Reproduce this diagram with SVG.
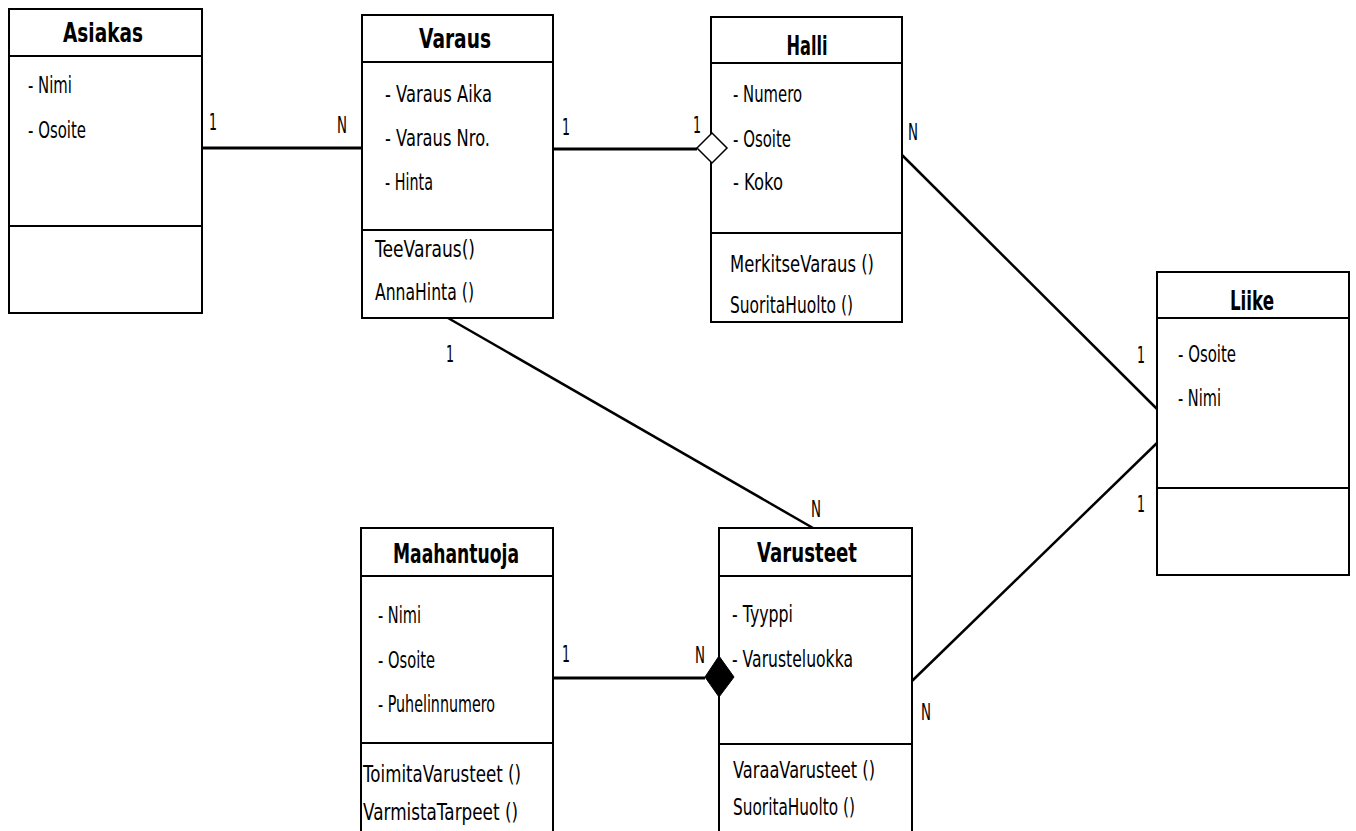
<svg xmlns="http://www.w3.org/2000/svg" width="1356" height="831" viewBox="0 0 1356 831">
<style>
.box{fill:#fff;stroke:#000;stroke-width:2}
.div{stroke:#000;stroke-width:2}
.t{font-family:"DejaVu Sans","Liberation Sans",sans-serif;font-size:23px;fill:#000}
.h{font-family:"DejaVu Sans","Liberation Sans",sans-serif;font-size:26px;font-weight:bold;fill:#000;text-anchor:middle}
.l{font-family:"DejaVu Sans","Liberation Sans",sans-serif;font-size:23px;fill:#000}
.c{stroke:#000;stroke-width:3;fill:none}
.d{stroke:#000;stroke-width:2.5;fill:none}
</style>
<rect width="1356" height="831" fill="#fff"/>
<g id="asiakas">
<rect class="box" x="9" y="9" width="193" height="304"/>
<line class="div" x1="9" y1="56" x2="202" y2="56"/>
<line class="div" x1="9" y1="226" x2="202" y2="226"/>
<text class="h" x="103" y="42" textLength="80" lengthAdjust="spacingAndGlyphs">Asiakas</text>
<text class="t" x="28" y="93" textLength="44" lengthAdjust="spacingAndGlyphs">- Nimi</text>
<text class="t" x="28" y="138" textLength="58" lengthAdjust="spacingAndGlyphs">- Osoite</text>
</g>
<g id="varaus">
<rect class="box" x="362" y="15" width="191" height="303"/>
<line class="div" x1="362" y1="62" x2="553" y2="62"/>
<line class="div" x1="362" y1="230" x2="553" y2="230"/>
<text class="h" x="455" y="48" textLength="72" lengthAdjust="spacingAndGlyphs">Varaus</text>
<text class="t" x="385" y="102" textLength="107" lengthAdjust="spacingAndGlyphs">- Varaus Aika</text>
<text class="t" x="385" y="146" textLength="105" lengthAdjust="spacingAndGlyphs">- Varaus Nro.</text>
<text class="t" x="385" y="190" textLength="48" lengthAdjust="spacingAndGlyphs">- Hinta</text>
<text class="t" x="375" y="257" textLength="100" lengthAdjust="spacingAndGlyphs">TeeVaraus()</text>
<text class="t" x="375" y="300" textLength="99" lengthAdjust="spacingAndGlyphs">AnnaHinta ()</text>
</g>
<g id="halli">
<rect class="box" x="711" y="17" width="191" height="305"/>
<line class="div" x1="711" y1="63" x2="902" y2="63"/>
<line class="div" x1="711" y1="233" x2="902" y2="233"/>
<text class="h" x="807" y="55" textLength="41" lengthAdjust="spacingAndGlyphs">Halli</text>
<text class="t" x="733" y="102" textLength="69" lengthAdjust="spacingAndGlyphs">- Numero</text>
<text class="t" x="733" y="147" textLength="58" lengthAdjust="spacingAndGlyphs">- Osoite</text>
<text class="t" x="733" y="190" textLength="50" lengthAdjust="spacingAndGlyphs">- Koko</text>
<text class="t" x="730" y="272" textLength="144" lengthAdjust="spacingAndGlyphs">MerkitseVaraus ()</text>
<text class="t" x="730" y="313" textLength="123" lengthAdjust="spacingAndGlyphs">SuoritaHuolto ()</text>
</g>
<g id="liike">
<rect class="box" x="1157" y="272" width="192" height="303"/>
<line class="div" x1="1157" y1="318" x2="1349" y2="318"/>
<line class="div" x1="1157" y1="488" x2="1349" y2="488"/>
<text class="h" x="1252" y="310" textLength="44" lengthAdjust="spacingAndGlyphs">Liike</text>
<text class="t" x="1178" y="362" textLength="58" lengthAdjust="spacingAndGlyphs">- Osoite</text>
<text class="t" x="1178" y="406" textLength="43" lengthAdjust="spacingAndGlyphs">- Nimi</text>
</g>
<g id="maahantuoja">
<rect class="box" x="361" y="528" width="192" height="320"/>
<line class="div" x1="361" y1="576" x2="553" y2="576"/>
<line class="div" x1="361" y1="743" x2="553" y2="743"/>
<text class="h" x="456" y="563" textLength="126" lengthAdjust="spacingAndGlyphs">Maahantuoja</text>
<text class="t" x="378" y="623" textLength="43" lengthAdjust="spacingAndGlyphs">- Nimi</text>
<text class="t" x="378" y="668" textLength="57" lengthAdjust="spacingAndGlyphs">- Osoite</text>
<text class="t" x="378" y="712" textLength="117" lengthAdjust="spacingAndGlyphs">- Puhelinnumero</text>
<text class="t" x="363" y="782" textLength="158" lengthAdjust="spacingAndGlyphs">ToimitaVarusteet ()</text>
<text class="t" x="363" y="820" textLength="155" lengthAdjust="spacingAndGlyphs">VarmistaTarpeet ()</text>
</g>
<g id="varusteet">
<rect class="box" x="719" y="528" width="193" height="320"/>
<line class="div" x1="719" y1="576" x2="912" y2="576"/>
<line class="div" x1="719" y1="744" x2="912" y2="744"/>
<text class="h" x="807" y="562" textLength="100" lengthAdjust="spacingAndGlyphs">Varusteet</text>
<text class="t" x="732" y="622" textLength="61" lengthAdjust="spacingAndGlyphs">- Tyyppi</text>
<text class="t" x="732" y="667" textLength="121" lengthAdjust="spacingAndGlyphs">- Varusteluokka</text>
<text class="t" x="733" y="778" textLength="142" lengthAdjust="spacingAndGlyphs">VaraaVarusteet ()</text>
<text class="t" x="733" y="815" textLength="122" lengthAdjust="spacingAndGlyphs">SuoritaHuolto ()</text>
</g>
<g id="connectors">
<line class="c" x1="202" y1="148" x2="362" y2="148"/>
<line class="c" x1="553" y1="149" x2="697" y2="149"/>
<polygon points="697,148 712,133 727,148 712,163" fill="#fff" stroke="#000" stroke-width="1.5"/>
<line class="d" x1="902" y1="155" x2="1157" y2="409"/>
<line class="d" x1="448" y1="318" x2="813" y2="528"/>
<line class="c" x1="553" y1="678" x2="705" y2="678"/>
<polygon points="705,677 719,656 734,677 719,697" fill="#000" stroke="#000" stroke-width="1"/>
<line class="d" x1="912" y1="681" x2="1157" y2="443"/>
<text class="l" x="209" y="130" textLength="8" lengthAdjust="spacingAndGlyphs">1</text>
<text class="l" x="337" y="133" textLength="10" lengthAdjust="spacingAndGlyphs">N</text>
<text class="l" x="562" y="135" textLength="8" lengthAdjust="spacingAndGlyphs">1</text>
<text class="l" x="693" y="133" textLength="8" lengthAdjust="spacingAndGlyphs">1</text>
<text class="l" x="908" y="140" textLength="10" lengthAdjust="spacingAndGlyphs">N</text>
<text class="l" x="1137" y="363" textLength="8" lengthAdjust="spacingAndGlyphs">1</text>
<text class="l" x="1137" y="512" textLength="8" lengthAdjust="spacingAndGlyphs">1</text>
<text class="l" x="446" y="362" textLength="8" lengthAdjust="spacingAndGlyphs">1</text>
<text class="l" x="811" y="517" textLength="10" lengthAdjust="spacingAndGlyphs">N</text>
<text class="l" x="562" y="662" textLength="8" lengthAdjust="spacingAndGlyphs">1</text>
<text class="l" x="695" y="663" textLength="10" lengthAdjust="spacingAndGlyphs">N</text>
<text class="l" x="921" y="720" textLength="10" lengthAdjust="spacingAndGlyphs">N</text>
</g>
</svg>
